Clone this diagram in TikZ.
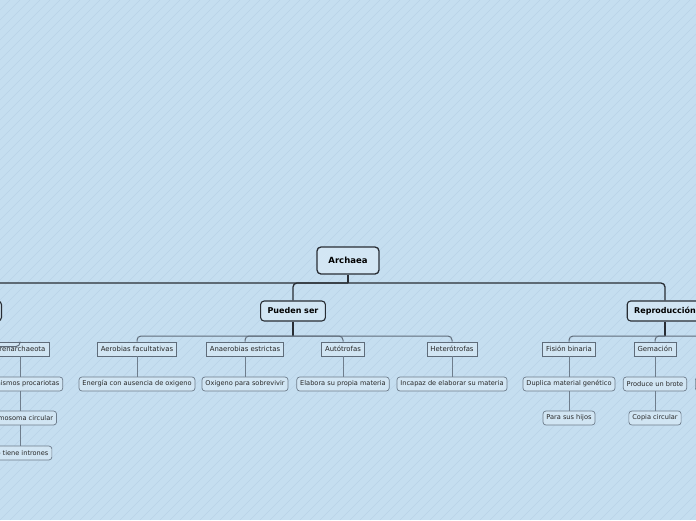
\documentclass[tikz,border=0pt]{standalone}
\usepackage{fontspec}
\setmainfont{DejaVu Sans}
\definecolor{bgblue}{RGB}{197,222,240}
\definecolor{hatch}{RGB}{186,211,232}
\definecolor{lineA}{RGB}{40,45,52}
\definecolor{lineB}{RGB}{95,108,122}
\definecolor{lineC}{RGB}{110,125,140}
\tikzset{
  root/.style={draw=lineA, line width=1.3pt, rounded corners=4pt, fill=bgblue!75!white,
    font=\fontsize{8.5}{10}\selectfont\bfseries, minimum width=62pt, minimum height=27pt, inner sep=0pt},
  topic/.style={draw=lineA, line width=1.1pt, rounded corners=3.5pt, fill=bgblue!80!white,
    font=\fontsize{8}{9}\selectfont\bfseries, minimum height=20pt, inner xsep=7pt, inner ysep=0pt},
  sub/.style={draw=lineB, line width=0.7pt, fill=bgblue!80!white, text=black!85,
    font=\fontsize{6.9}{8}\selectfont, minimum height=14pt, inner xsep=3.5pt, inner ysep=0pt},
  leaf/.style={sub, draw=lineC, rounded corners=3pt, font=\fontsize{6.6}{8}\selectfont},
  mainlink/.style={draw=lineA, line width=1.3pt, rounded corners=4pt},
  sublink/.style={draw=lineB, line width=1pt, rounded corners=4pt},
  leaflink/.style={draw=lineC, line width=0.8pt},
}
\begin{document}
\begin{tikzpicture}[x=1pt, y=-1pt]
  \useasboundingbox (0,0) rectangle (696,520);
  \clip (0,0) rectangle (696,520);
  \fill[bgblue] (0,0) rectangle (696,520);
  \foreach \i in {0,10,...,1220}
    \draw[hatch, line width=0.4pt] (\i-520,520) -- (\i,0);

  % main topics
  \node[root] (archaea) at (348,260.5) {Archaea};
  \node[topic, anchor=east, minimum width=60pt] (tipos) at (2,311) {};
  \node[topic] (pueden) at (293,311) {Pueden ser};
  \node[topic] (repro) at (665,311) {Reproducción};
  \coordinate (hub) at (348,283);
  \draw[mainlink] (tipos.north) |- (hub) -| (repro.north);
  \draw[mainlink] (archaea.south) -- (hub);
  \draw[mainlink] (pueden.north) |- (hub);

  % Pueden ser
  \node[sub] (aerob) at (137,349) {Aerobias facultativas};
  \node[sub] (anaer) at (245,349) {Anaerobias estrictas};
  \node[sub] (autot) at (343,349) {Autótrofas};
  \node[sub] (heter) at (452,349) {Heterótrofas};
  \coordinate (pj) at (293,336);
  \draw[mainlink] (pueden.south) -- (pj);
  \draw[sublink] (aerob.north) |- (pj) -| (heter.north);
  \draw[sublink] (anaer.north) |- (pj);
  \draw[sublink] (autot.north) |- (pj);
  \node[leaf] (energia) at (137,384) {Energía con ausencia de oxigeno};
  \node[leaf] (oxigeno) at (245,384) {Oxigeno para sobrevivir};
  \node[leaf] (elabora) at (343,384) {Elabora su propia materia};
  \node[leaf] (incapaz) at (452,384) {Incapaz de elaborar su materia};
  \draw[leaflink] (aerob) -- (energia);
  \draw[leaflink] (anaer) -- (oxigeno);
  \draw[leaflink] (autot) -- (elabora);
  \draw[leaflink] (heter) -- (incapaz);

  % Reproduccion
  \node[sub] (fision) at (569,349) {Fisión binaria};
  \node[sub] (gemacion) at (655,349) {Gemación};
  \node[sub, minimum width=60pt] (fragm) at (750,349) {};
  \coordinate (rj) at (665,336);
  \draw[mainlink] (repro.south) -- (rj);
  \draw[sublink] (fision.north) |- (rj) -| (fragm.north);
  \draw[sublink] (gemacion.north) |- (rj);
  \node[leaf] (duplica) at (569,384) {Duplica material genético};
  \node[leaf] (brote) at (655,384) {Produce un brote};
  \node[leaf, anchor=west, minimum width=80pt] (partes) at (695,384) {};
  \node[leaf] (hijos) at (569,418) {Para sus hijos};
  \node[leaf] (copia) at (655,418) {Copia circular};
  \draw[leaflink] (fision) -- (duplica) -- (hijos);
  \draw[leaflink] (gemacion) -- (brote) -- (copia);
  \draw[leaflink] (fragm) -- (fragm |- partes.north);

  % Tipos
  \node[sub] (crenar) at (20,349) {Crenarchaeota};
  \node[leaf] (organ) at (20,384) {Organismos procariotas};
  \node[leaf] (cromo) at (20,418) {Cromosoma circular};
  \node[leaf] (intron) at (20,453) {No tiene intrones};
  \draw[mainlink] (tipos.south) -- ++(0,25) coordinate (tj);
  \draw[sublink] (crenar.north) |- (tj);
  \draw[leaflink] (crenar) -- (organ) -- (cromo) -- (intron);
\end{tikzpicture}
\end{document}
